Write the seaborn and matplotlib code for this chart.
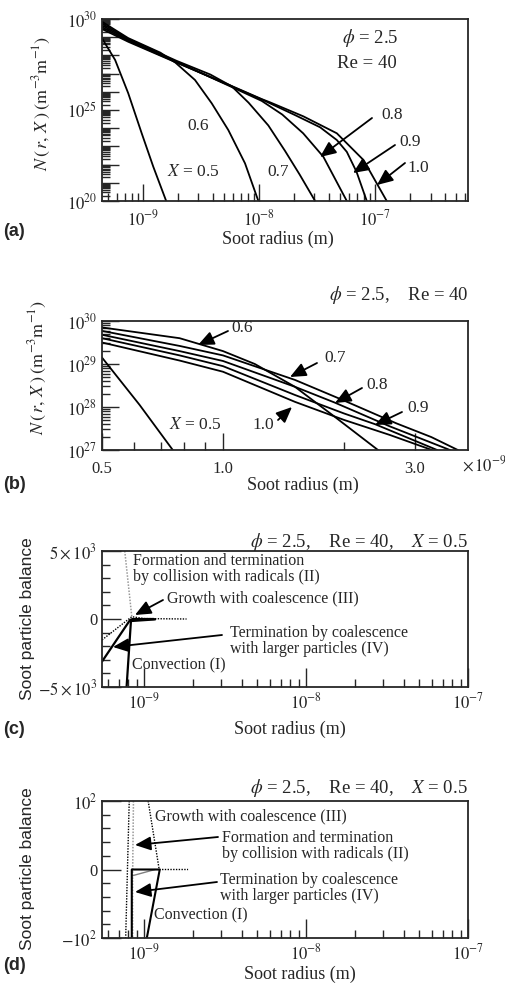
import numpy as np
import pandas as pd
import matplotlib
matplotlib.use('Agg')
import matplotlib.pyplot as plt
import matplotlib.ticker as mticker
import seaborn as sns

# ---------- data ----------
# (a) log10 of radius (m) and log10 of N for each X
a_r_05 = [-9.353, -9.24, -9.127, -9.011, -8.911, -8.80]
a_n_05 = [28.94, 27.75, 25.92, 23.72, 21.88, 20.0]
a_r_06 = [-9.353, -9.127, -8.85, -8.72, -8.552, -8.408, -8.265, -8.121, -8.006]
a_n_06 = [29.85, 28.95, 28.15, 27.6, 26.65, 25.37, 23.9, 22.07, 20.0]
a_r_07 = [-9.353, -9.127, -8.71, -8.42, -8.235, -8.09, -7.92, -7.776, -7.65, -7.517]
a_n_07 = [29.75, 28.9, 27.7, 26.95, 26.3, 25.4, 24.15, 22.75, 21.45, 20.0]
a_r_08 = [-9.353, -9.127, -8.71, -8.265, -7.977, -7.8, -7.62, -7.446, -7.244]
a_n_08 = [29.65, 28.85, 27.65, 26.35, 25.5, 24.75, 23.72, 22.43, 20.0]
a_r_09 = [-9.353, -9.127, -8.71, -8.265, -7.977, -7.69, -7.474, -7.33, -7.244, -7.16, -7.072]
a_n_09 = [29.55, 28.8, 27.62, 26.38, 25.58, 24.72, 24.05, 23.35, 22.7, 21.6, 20.0]
a_r_10 = [-9.353, -9.127, -8.71, -8.265, -7.977, -7.905, -7.618, -7.33, -7.1, -6.9]
a_n_10 = [29.45, 28.75, 27.6, 26.4, 25.6, 25.42, 24.65, 23.72, 22.25, 20.0]

# (b) radius in 1e-9 m, log10 of N
b_r_05 = [0.5, 0.62, 0.75]
b_n_05 = [29.15, 28.05, 27.0]
b_r_06 = [0.5, 0.78, 1.0, 1.2, 1.51, 1.88, 2.43]
b_n_06 = [29.85, 29.6, 29.3, 29.0, 28.47, 27.8, 27.0]
b_r_07 = [0.5, 0.78, 1.0, 1.51, 2.0, 2.7, 3.3, 3.84]
b_n_07 = [29.77, 29.42, 29.2, 28.63, 28.15, 27.62, 27.3, 27.0]
b_r_08 = [0.5, 0.78, 1.0, 1.51, 1.9, 2.6, 3.67]
b_n_08 = [29.68, 29.3, 29.07, 28.47, 28.1, 27.55, 27.0]
b_r_09 = [0.5, 0.78, 1.0, 1.51, 2.0, 2.39, 3.41]
b_n_09 = [29.6, 29.2, 28.95, 28.28, 27.85, 27.6, 27.0]
b_r_10 = [0.5, 0.78, 1.0, 1.51, 2.0, 2.6, 3.31]
b_n_10 = [29.5, 29.08, 28.82, 28.12, 27.7, 27.35, 27.0]

# (c) soot particle balance terms
c_r_conv = [7.8e-10, 8.3e-10, 1.17e-9]
c_v_conv = [-5000, -150, -30]
c_r_term = [5.5e-10, 8.2e-10, 8.5e-10, 1.15e-9]
c_v_term = [-3130, -70, 0, 0]
c_r_grow = [5.5e-10, 8.4e-10, 1.0e-9, 1.83e-9]
c_v_grow = [-1540, 170, 30, 0]
c_r_form = [7.6e-10, 8.4e-10]
c_v_form = [5000, 170]

# (d) same terms, narrow range
d_r_form = [8.1e-10, 7.7e-10]
d_v_form = [100, -100]
d_r_form2 = [8.6e-10, 8.5e-10, 8.5e-10]
d_v_form2 = [100, -10, -100]
d_r_grow = [1.06e-9, 1.24e-9, 1.87e-9]
d_v_grow = [100, 0, 0]
d_r_conv = [8.4e-10, 8.4e-10, 1.25e-9, 1.04e-9]
d_v_conv = [-100, 0, 0, -100]
d_r_term = [8.5e-10, 1.17e-9]
d_v_term = [-9, 0]

# ---------- style ----------
sns.set_style('ticks')
plt.rcParams['font.family'] = ['Liberation Serif', 'DejaVu Serif']
plt.rcParams['mathtext.fontset'] = 'stix'
plt.rcParams['axes.linewidth'] = 1.3

W, H = 506, 990
fig = plt.figure(figsize=(W / 100, H / 100), dpi=100)


def fx(px):
    return px / W


def fy(py):
    return 1 - py / H


def make_axes(left, top, right, bottom):
    return fig.add_axes([fx(left), fy(bottom), (right - left) / W, (bottom - top) / H])


def line(ax, x, y, color='k', lw=1.3, ls='-'):
    df = pd.DataFrame({'x': x, 'y': y})
    sns.lineplot(data=df, x='x', y='y', ax=ax, color=color, lw=lw,
                 linestyle=ls, sort=False, estimator=None)


def arrow(tail, tip):
    fig.add_artist(matplotlib.patches.FancyArrowPatch(
        (fx(tail[0]), fy(tail[1])), (fx(tip[0]), fy(tip[1])),
        transform=fig.transFigure, arrowstyle='-|>,head_length=0.8,head_width=0.35',
        mutation_scale=12, color='k', lw=1.3, shrinkA=0, shrinkB=0))


def txt(x, y, s, size=12.5, ha='center', **kw):
    fig.text(fx(x), fy(y), s, ha=ha, va='center', size=size, **kw)


def pow_fmt(show):
    def f(v, pos):
        e = int(round(np.log10(v)))
        return r'$10^{%d}$' % e if e in show else ''
    return mticker.FuncFormatter(f)


def style_ticks(ax, major=11, minor=5, xpad=5):
    ax.tick_params(which='both', direction='in', top=False, right=False,
                   labelsize=12, width=1.0)
    ax.tick_params(which='major', length=major)
    ax.tick_params(which='minor', length=minor)
    ax.tick_params(axis='x', which='both', pad=xpad)
    for s in ax.spines.values():
        s.set_linewidth(1.3)
    ax.set_xlabel('')
    ax.set_ylabel('')


# ---------- (a) ----------
ax = make_axes(102, 19, 468, 201)
for rx, ny in [(a_r_05, a_n_05), (a_r_06, a_n_06), (a_r_07, a_n_07),
               (a_r_08, a_n_08), (a_r_09, a_n_09), (a_r_10, a_n_10)]:
    line(ax, 10.0 ** np.array(rx), 10.0 ** np.array(ny))
ax.set_xscale('log')
ax.set_yscale('log')
ax.set_xlim(10 ** -9.353, 10 ** -6.2)
ax.set_ylim(1e20, 1e30)
ax.xaxis.set_major_locator(mticker.LogLocator(base=10, numticks=20))
ax.xaxis.set_minor_locator(mticker.LogLocator(base=10, subs=np.arange(2, 10), numticks=20))
ax.xaxis.set_major_formatter(pow_fmt([-9, -8, -7]))
ax.xaxis.set_minor_formatter(mticker.NullFormatter())
ax.yaxis.set_major_locator(mticker.LogLocator(base=10, numticks=20))
ax.yaxis.set_minor_locator(mticker.LogLocator(base=10, subs=np.arange(2, 10), numticks=20))
ax.yaxis.set_major_formatter(pow_fmt([20, 25, 30]))
ax.yaxis.set_minor_formatter(mticker.NullFormatter())
style_ticks(ax, 12, 6, xpad=6)

txt(370, 38, r'$\phi$ = 2.5', 13.5)
txt(367, 63, 'Re = 40', 13.5)
txt(198, 126, '0.6')
txt(193, 172, r'$X$ = 0.5')
txt(278, 172, '0.7')
txt(392, 115, '0.8')
txt(410, 142, '0.9')
txt(418, 168, '1.0')
arrow((372, 118), (320, 157))
arrow((395, 145), (353, 173))
arrow((405, 163), (377, 185))
txt(42, 103, r'$N\,(\,r,\,X\,)\;(\mathrm{m}^{-3}\mathrm{m}^{-1})$', 13, rotation=90)
txt(278, 239, 'Soot radius (m)', 13)
txt(3, 232, '(a)', 13, ha='left', family='Liberation Sans', weight='bold')

# ---------- (b) ----------
ax = make_axes(102, 321, 468, 450)
for rx, ny in [(b_r_05, b_n_05), (b_r_06, b_n_06), (b_r_07, b_n_07),
               (b_r_08, b_n_08), (b_r_09, b_n_09), (b_r_10, b_n_10)]:
    line(ax, rx, 10.0 ** np.array(ny))
ax.set_xscale('log')
ax.set_yscale('log')
ax.set_xlim(0.5, 4.07)
ax.set_ylim(1e27, 1e30)
ax.xaxis.set_major_locator(mticker.FixedLocator([0.5, 1.0, 3.0]))
ax.xaxis.set_major_formatter(mticker.FixedFormatter(['0.5', '1.0', '3.0']))
ax.xaxis.set_minor_locator(mticker.FixedLocator([0.6, 0.7, 0.8, 0.9, 2.0]))
ax.xaxis.set_minor_formatter(mticker.NullFormatter())
ax.yaxis.set_major_locator(mticker.LogLocator(base=10, numticks=10))
ax.yaxis.set_minor_locator(mticker.LogLocator(base=10, subs=np.arange(2, 10), numticks=10))
ax.yaxis.set_major_formatter(pow_fmt([27, 28, 29, 30]))
ax.yaxis.set_minor_formatter(mticker.NullFormatter())
style_ticks(ax, 12, 6, xpad=8)

txt(468, 295, r'$\phi$ = 2.5,    Re = 40', 13.5, ha='right')
txt(242, 328, '0.6')
txt(335, 358, '0.7')
txt(377, 385, '0.8')
txt(418, 408, '0.9')
txt(263, 425, '1.0')
txt(195, 425, r'$X$ = 0.5')
arrow((228, 331), (198, 345))
arrow((317, 363), (290, 377))
arrow((362, 388), (335, 403))
arrow((402, 412), (375, 425))
arrow((278, 420), (292, 407))
txt(462, 465, r'$\times\,10^{-9}$', 12, ha='left')
txt(38, 367, r'$N\,(\,r,\,X\,)\;(\mathrm{m}^{-3}\mathrm{m}^{-1})$', 13, rotation=90)
txt(303, 485, 'Soot radius (m)', 13)
txt(3, 484, '(b)', 13, ha='left', family='Liberation Sans', weight='bold')

# ---------- (c) ----------
ax = make_axes(102, 551, 468, 687)
line(ax, c_r_form, c_v_form, color='0.6', lw=1.1, ls=(0, (1, 1)))
line(ax, c_r_grow, c_v_grow, color='k', lw=1.0, ls=(0, (1, 1)))
line(ax, c_r_term, c_v_term, color='k', lw=1.6)
line(ax, c_r_conv, c_v_conv, color='k', lw=1.6)
ax.set_xscale('log')
ax.set_xlim(5.5e-10, 1e-7)
ax.set_ylim(-5000, 5000)
ax.xaxis.set_major_locator(mticker.LogLocator(base=10, numticks=20))
ax.xaxis.set_minor_locator(mticker.LogLocator(base=10, subs=np.arange(2, 10), numticks=20))
ax.xaxis.set_major_formatter(pow_fmt([-9, -8, -7]))
ax.xaxis.set_minor_formatter(mticker.NullFormatter())
ax.yaxis.set_major_locator(mticker.FixedLocator([-5000, 0, 5000]))
ax.yaxis.set_major_formatter(mticker.FixedFormatter([r'$-5\times10^3$', '0', r'$5\times10^3$']))
ax.yaxis.set_minor_locator(mticker.MultipleLocator(1000))
style_ticks(ax, 14, 6, xpad=4)

txt(468, 542, r'$\phi$ = 2.5,    Re = 40,    $X$ = 0.5', 13.5, ha='right')
txt(133, 569, 'Formation and termination\nby collision with radicals (II)', 11.5,
    ha='left', linespacing=1.0)
txt(167, 598, 'Growth with coalescence (III)', 11.5, ha='left')
txt(230, 641, 'Termination by coalescence\nwith larger particles (IV)', 11.5,
    ha='left', linespacing=1.0)
txt(132, 665, 'Convection (I)', 11.5, ha='left')
arrow((163, 600), (135, 615))
arrow((222, 635), (113, 647))
txt(28, 619, 'Soot particle balance', 12.5, rotation=90, family='Liberation Sans')
txt(290, 729, 'Soot radius (m)', 13)
txt(3, 729, '(c)', 13, ha='left', family='Liberation Sans', weight='bold')

# ---------- (d) ----------
ax = make_axes(102, 801, 468, 938)
line(ax, d_r_form, d_v_form, color='k', lw=1.0, ls=(0, (1, 1)))
line(ax, d_r_form2, d_v_form2, color='0.6', lw=1.1, ls=(0, (1, 1)))
line(ax, d_r_grow, d_v_grow, color='k', lw=1.0, ls=(0, (1, 1)))
line(ax, d_r_term, d_v_term, color='0.5', lw=1.0)
line(ax, d_r_conv, d_v_conv, color='k', lw=1.5)
ax.set_xscale('log')
ax.set_xlim(5.5e-10, 1e-7)
ax.set_ylim(-100, 100)
ax.xaxis.set_major_locator(mticker.LogLocator(base=10, numticks=20))
ax.xaxis.set_minor_locator(mticker.LogLocator(base=10, subs=np.arange(2, 10), numticks=20))
ax.xaxis.set_major_formatter(pow_fmt([-9, -8, -7]))
ax.xaxis.set_minor_formatter(mticker.NullFormatter())
ax.yaxis.set_major_locator(mticker.FixedLocator([-100, 0, 100]))
ax.yaxis.set_major_formatter(mticker.FixedFormatter([r'$-10^2$', '0', r'$10^2$']))
ax.yaxis.set_minor_locator(mticker.MultipleLocator(20))
style_ticks(ax, 14, 6, xpad=4)

txt(468, 788, r'$\phi$ = 2.5,    Re = 40,    $X$ = 0.5', 13.5, ha='right')
txt(155, 816, 'Growth with coalescence (III)', 11.5, ha='left')
txt(222, 846, 'Formation and termination\nby collision with radicals (II)', 11.5,
    ha='left', linespacing=1.0)
txt(220, 888, 'Termination by coalescence\nwith larger particles (IV)', 11.5,
    ha='left', linespacing=1.0)
txt(154, 915, 'Convection (I)', 11.5, ha='left')
arrow((218, 837), (135, 845))
arrow((217, 882), (135, 892))
txt(28, 869, 'Soot particle balance', 12.5, rotation=90, family='Liberation Sans')
txt(300, 974, 'Soot radius (m)', 13)
txt(3, 966, '(d)', 13, ha='left', family='Liberation Sans', weight='bold')

fig.savefig('out.png', dpi=100)
